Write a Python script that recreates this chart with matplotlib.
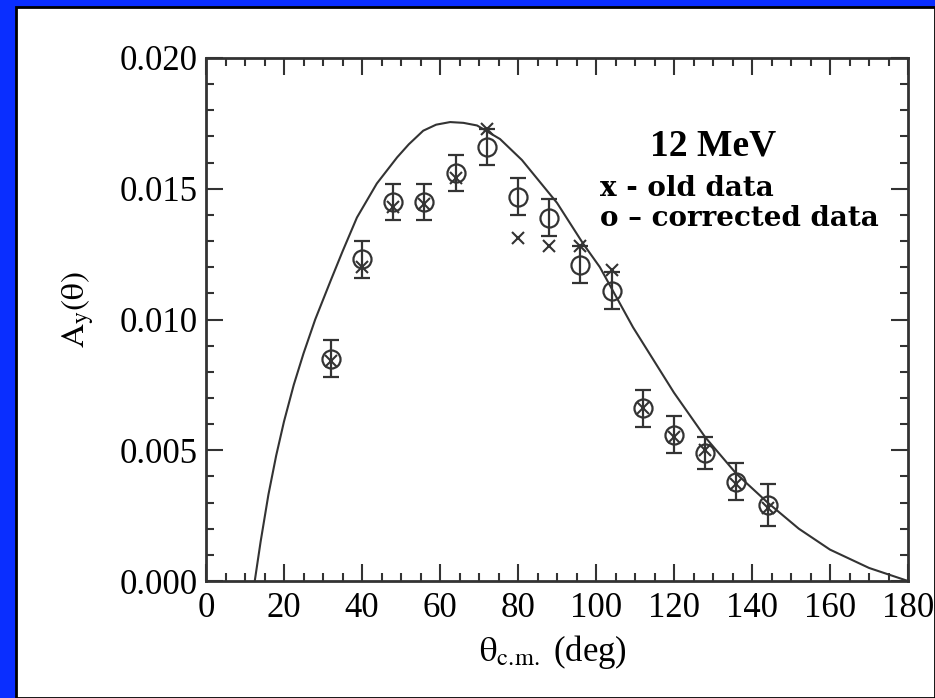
import numpy as np
import matplotlib
matplotlib.use("Agg")
import matplotlib.pyplot as plt
from matplotlib.patches import Rectangle
from matplotlib.ticker import MultipleLocator

# angles (deg) of the measured points
theta = [32, 40, 48, 56, 64, 72, 80, 88, 96, 104, 112, 120, 128, 136, 144]
# corrected data (o) with errors
ay_new = [0.0085, 0.0123, 0.0145, 0.0145, 0.0156, 0.0166, 0.0147, 0.0139, 0.0121,
          0.0111, 0.0066, 0.0056, 0.0049, 0.0038, 0.0029]
ay_err = [0.0007, 0.0007, 0.0007, 0.0007, 0.0007, 0.0007, 0.0007, 0.0007, 0.0007,
          0.0007, 0.0007, 0.0007, 0.0006, 0.0007, 0.0008]
# old data (x)
ay_old = [0.0084, 0.0120, 0.0143, 0.0144, 0.0154, 0.0173, 0.0131, 0.0128, 0.0128,
          0.0119, 0.0066, 0.0055, 0.0050, 0.0037, 0.0028]
# theory curve
curve_th = [12.5, 14, 16, 18, 20, 22.5, 25, 28, 32, 35, 38.7, 43.8, 49, 52, 55.7, 59,
            62.6, 66, 69.5, 75.4, 81, 90, 96.7, 101, 109.5, 120, 128, 136, 144, 152,
            160, 170, 180]
curve_ay = [0.0, 0.0015, 0.0033, 0.0048, 0.0061, 0.0075, 0.0087, 0.0100, 0.0115,
            0.0126, 0.0139, 0.0152, 0.0162, 0.0167, 0.01722, 0.01745, 0.01755,
            0.01752, 0.01742, 0.0169, 0.0161, 0.01446, 0.0129, 0.0120, 0.0097,
            0.0072, 0.0055, 0.0041, 0.0030, 0.0020, 0.0012, 0.0005, 0.0]

W, H = 935, 698
plt.rcParams['mathtext.fontset'] = 'stix'
serif = ['Liberation Serif', 'DejaVu Serif']

fig = plt.figure(figsize=(W / 100, H / 100), dpi=100)
fig.patch.set_facecolor('#0a2eff')
fig.patches.append(Rectangle((16 / W, 0), 1 - 16 / W, 1 - 7 / H, transform=fig.transFigure,
                             facecolor='white', edgecolor='black', linewidth=2, zorder=-1))

ax = fig.add_axes([206 / W, 1 - 581 / H, 702 / W, 523 / H])
ax.set_zorder(2)
ax.set_facecolor('white')
dark = '#333333'

ax.plot(curve_th, curve_ay, color=dark, lw=1.5)
ax.plot(theta, ay_old, 'x', color=dark, ms=9, mew=1.5)
ax.errorbar(theta, ay_new, yerr=ay_err, fmt='o', mfc='none', mec=dark, ms=13, mew=1.6,
            ecolor=dark, elinewidth=1.6, capsize=5.5, capthick=1.6)

ax.set_xlim(0, 180)
ax.set_ylim(0, 0.020)
ax.xaxis.set_major_locator(MultipleLocator(20))
ax.xaxis.set_minor_locator(MultipleLocator(5))
ax.yaxis.set_major_locator(MultipleLocator(0.005))
ax.yaxis.set_minor_locator(MultipleLocator(0.001))
ax.set_yticks(ax.get_yticks())
ax.set_yticklabels(['%.3f' % v for v in ax.get_yticks()])
ax.set_ylim(0, 0.020)
ax.tick_params(which='both', direction='in', top=True, right=True, color=dark, width=1.5)
ax.tick_params(which='major', length=12)
ax.tick_params(which='minor', length=6)
ax.tick_params(axis='x', pad=8)
ax.tick_params(axis='y', pad=6)
for lab in ax.get_xticklabels() + ax.get_yticklabels():
    lab.set_family(serif)
    lab.set_fontsize(25)
for s in ax.spines.values():
    s.set_color(dark)
    s.set_linewidth(2)

fig.text(553 / W, 1 - 652 / H, r'$\mathrm{\theta}_{\mathrm{c.\!m.}}$ (deg)', family=serif,
         fontsize=25, ha='center', va='center')
fig.text(78 / W, 1 - 310 / H, r'$\mathrm{A_y(\theta)}$', fontsize=24, rotation=90,
         ha='center', va='center')

fig.text(713 / W, 1 - 156 / H, '12 MeV', family=serif, fontsize=27, fontweight='bold',
         ha='center', va='baseline')
fig.text(600 / W, 1 - 196 / H, 'x - old data', family='DejaVu Serif', fontsize=20,
         fontweight='bold', ha='left', va='baseline')
fig.text(600 / W, 1 - 226 / H, 'o \u2013 corrected data', family='DejaVu Serif', fontsize=20,
         fontweight='bold', ha='left', va='baseline')

fig.savefig('out.png', dpi=100, facecolor=fig.get_facecolor())
